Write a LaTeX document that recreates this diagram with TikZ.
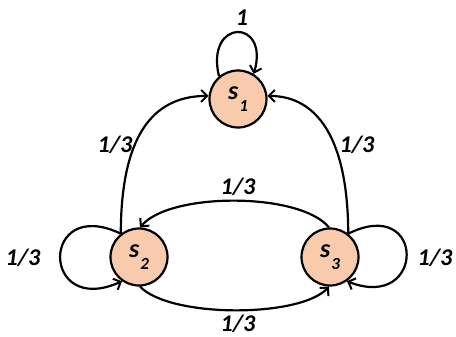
\documentclass[tikz,border=0pt]{standalone}
\usepackage{fontspec}
\setmainfont{Carlito}
\usetikzlibrary{arrows.meta}
\definecolor{peach}{HTML}{F8CBAD}
\tikzset{
  state/.style={circle, draw=black, line width=2.2pt, fill=peach, minimum size=57pt, inner sep=0pt,
    font=\fontsize{26}{28}\selectfont\bfseries\itshape},
  edge/.style={line width=2.2pt, -{Straight Barb[length=6pt,width=12pt,line width=2pt]}},
  lbl/.style={font=\fontsize{24}{26}\selectfont\bfseries\itshape, inner sep=0pt}
}
\newcommand{\sub}[1]{\kern1pt\raisebox{-0.35em}{\fontsize{17}{17}\selectfont #1}}
\begin{document}
\begin{tikzpicture}[x=1pt,y=-1pt]
\useasboundingbox (0,0) rectangle (456,337);
\node[state] (s1) at (238,99) {\raisebox{0.1em}{s}\sub{1}};
\node[state] (s2) at (139,257) {\raisebox{0.1em}{s}\sub{2}};
\node[state] (s3) at (330,257) {\raisebox{0.1em}{s}\sub{3}};
% self loops
\draw[edge] (s1.130) .. controls (205,18) and (270,18) .. (s1.58);
\draw[edge] (s2.128) .. controls (40,195) and (40,318) .. (s2.235);
\draw[edge] (s3.52) .. controls (426,195) and (426,312) .. (s3.305);
% to s1
\draw[edge] (s2.128) .. controls (121,140) and (150,96) .. (s1.174);
\draw[edge] (s3.52) .. controls (348,140) and (318,96) .. (s1.6);
% between s2 and s3
\draw[edge] (s3.92) .. controls (300,192) and (170,192) .. (s2.88);
\draw[edge] (s2.272) .. controls (170,318) and (300,318) .. (s3.268);
% labels
\node[lbl] (l11) at (242,18) {1};
\node[lbl] (l21) at (115,145) {1/3};
\node[lbl] (l31) at (357,145) {1/3};
\node[lbl] (l32) at (238,187) {1/3};
\node[lbl] (l23) at (238,324) {1/3};
\node[lbl] (l22) at (23,258) {1/3};
\node[lbl] (l33) at (435,258) {1/3};
\end{tikzpicture}
\end{document}
